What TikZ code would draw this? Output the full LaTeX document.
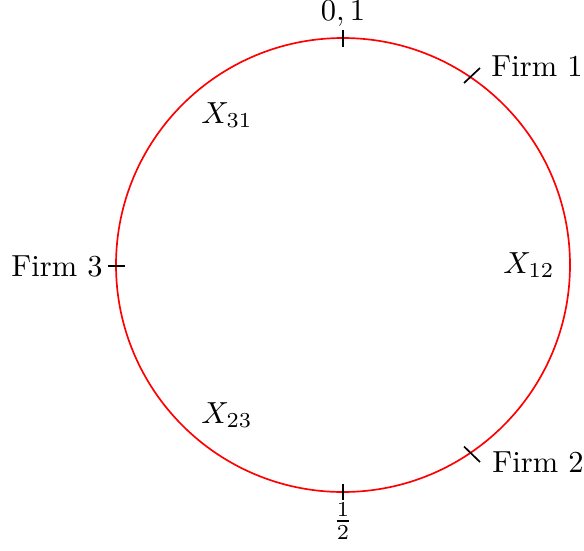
\documentclass[tikz,border=0pt]{standalone}
\begin{document}
\begin{tikzpicture}[x=0.328pt,y=-0.328pt,
  ring/.style={draw=red,line width=0.55pt},
  tickmark/.style={draw=black,line width=0.55pt},
  lbl/.style={inner sep=0pt,anchor=center}]
\useasboundingbox (0,0) rectangle (584,550);
\coordinate (c) at (343,265);
\draw[ring] (c) circle[radius=227];
% ticks
\draw[tickmark] (343,30) -- (343,46.5);
\draw[tickmark] (343,483.5) -- (343,500);
\draw[tickmark] (108,266) -- (124.5,266);
\draw[tickmark] (464,83) -- (480,68);
\draw[tickmark] (464,446.5) -- (480,462);
% labels
\node[lbl] (top) at (343,13.8) {$0,1$};
\node[lbl] (half) at (343,521) {$\frac{1}{2}$};
\node[lbl] (f1) at (537,66.6) {Firm 1};
\node[lbl] (f2) at (538,462.6) {Firm 2};
\node[lbl] (f3) at (57,266) {Firm 3};
\node[lbl] (x31) at (227,115) {$X_{31}$};
\node[lbl] (x12) at (529,265) {$X_{12}$};
\node[lbl] (x23) at (227,415) {$X_{23}$};
\end{tikzpicture}
\end{document}
